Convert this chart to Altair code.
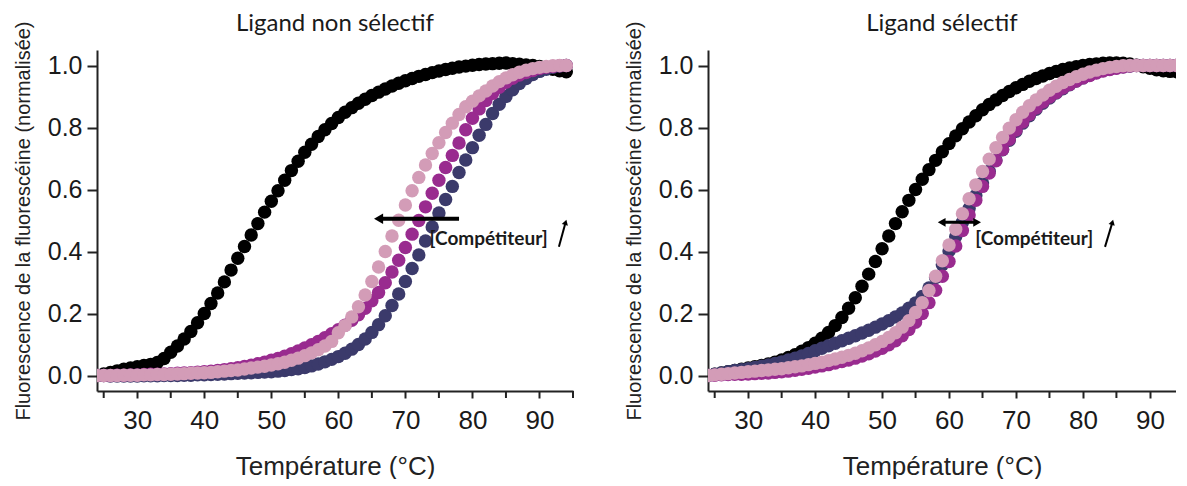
import altair as alt
import pandas as pd

temps = list(range(24, 95))

# Left panel: "Ligand non sélectif"
L_black = [0.000, 0.005, 0.010, 0.015, 0.020, 0.024, 0.028, 0.032, 0.036, 0.042,
           0.055, 0.075, 0.095, 0.118, 0.142, 0.170, 0.200, 0.232, 0.266, 0.302,
           0.340, 0.378, 0.416, 0.453, 0.490, 0.527, 0.562, 0.596, 0.630, 0.661,
           0.691, 0.720, 0.746, 0.771, 0.793, 0.813, 0.832, 0.849, 0.864, 0.878,
           0.891, 0.903, 0.914, 0.924, 0.934, 0.943, 0.951, 0.958, 0.965, 0.971,
           0.977, 0.982, 0.987, 0.991, 0.995, 0.998, 1.001, 1.003, 1.005, 1.006,
           1.007, 1.008, 1.006, 1.004, 1.002, 1.000, 0.997, 0.993, 0.988, 0.983,
           0.980]
L_navy = [0.000, 0.000, -0.002, -0.002, -0.002, -0.002, -0.002, -0.001, -0.001, -0.001,
          0.000, 0.000, 0.000, 0.001, 0.001, 0.002, 0.002, 0.003, 0.004, 0.005,
          0.006, 0.007, 0.008, 0.009, 0.010, 0.011, 0.012, 0.014, 0.016, 0.019,
          0.022, 0.026, 0.031, 0.037, 0.044, 0.052, 0.061, 0.072, 0.085, 0.100,
          0.118, 0.139, 0.164, 0.193, 0.226, 0.263, 0.303, 0.345, 0.389, 0.434,
          0.479, 0.524, 0.568, 0.610, 0.655, 0.695, 0.735, 0.775, 0.810, 0.845,
          0.875, 0.900, 0.922, 0.942, 0.958, 0.971, 0.981, 0.988, 0.994, 0.998,
          1.000]
L_purple = [0.000, 0.000, 0.000, 0.001, 0.001, 0.002, 0.002, 0.003, 0.004, 0.004,
            0.005, 0.006, 0.007, 0.008, 0.009, 0.011, 0.012, 0.014, 0.016, 0.019,
            0.022, 0.025, 0.029, 0.033, 0.038, 0.043, 0.049, 0.055, 0.062, 0.070,
            0.079, 0.089, 0.099, 0.110, 0.122, 0.135, 0.148, 0.162, 0.178, 0.196,
            0.217, 0.241, 0.268, 0.299, 0.334, 0.372, 0.413, 0.456, 0.500, 0.544,
            0.588, 0.630, 0.671, 0.710, 0.750, 0.793, 0.830, 0.860, 0.887, 0.910,
            0.930, 0.946, 0.959, 0.969, 0.977, 0.984, 0.990, 0.994, 0.997, 0.999,
            1.000]
L_pink = [0.000, 0.000, 0.000, 0.000, 0.001, 0.001, 0.001, 0.002, 0.002, 0.003,
          0.003, 0.004, 0.005, 0.006, 0.007, 0.008, 0.009, 0.010, 0.012, 0.014,
          0.016, 0.018, 0.021, 0.024, 0.027, 0.030, 0.034, 0.038, 0.043, 0.049,
          0.056, 0.064, 0.073, 0.083, 0.095, 0.110, 0.138, 0.161, 0.189, 0.222,
          0.260, 0.303, 0.350, 0.400, 0.450, 0.501, 0.550, 0.596, 0.639, 0.679,
          0.716, 0.751, 0.784, 0.814, 0.842, 0.867, 0.885, 0.902, 0.918, 0.934,
          0.948, 0.960, 0.970, 0.978, 0.985, 0.990, 0.994, 0.997, 0.999, 1.000,
          1.000]

# Right panel: "Ligand sélectif"
R_black = [0.000, 0.004, 0.008, 0.012, 0.016, 0.020, 0.024, 0.028, 0.032, 0.037,
           0.043, 0.050, 0.058, 0.067, 0.078, 0.090, 0.104, 0.120, 0.139, 0.161,
           0.187, 0.217, 0.251, 0.288, 0.327, 0.368, 0.409, 0.450, 0.490, 0.528,
           0.565, 0.600, 0.633, 0.664, 0.694, 0.722, 0.748, 0.773, 0.796, 0.818,
           0.838, 0.857, 0.874, 0.889, 0.903, 0.916, 0.928, 0.939, 0.949, 0.958,
           0.966, 0.974, 0.981, 0.987, 0.992, 0.996, 1.000, 1.003, 1.005, 1.007,
           1.008, 1.008, 1.007, 1.005, 1.001, 0.996, 0.991, 0.986, 0.983, 0.981,
           0.980]
R_navy = [0.000, 0.004, 0.008, 0.012, 0.016, 0.019, 0.022, 0.026, 0.030, 0.034,
          0.039, 0.044, 0.050, 0.056, 0.063, 0.071, 0.080, 0.088, 0.096, 0.104,
          0.112, 0.120, 0.128, 0.137, 0.146, 0.156, 0.166, 0.177, 0.189, 0.202,
          0.217, 0.234, 0.255, 0.282, 0.316, 0.357, 0.402, 0.448, 0.494, 0.539,
          0.581, 0.621, 0.659, 0.695, 0.728, 0.759, 0.788, 0.814, 0.838, 0.859,
          0.878, 0.895, 0.911, 0.925, 0.938, 0.950, 0.960, 0.969, 0.977, 0.984,
          0.989, 0.993, 0.996, 0.998, 1.000, 1.000, 1.000, 1.000, 1.000, 1.000,
          1.000]
R_purple = [0.000, 0.001, 0.002, 0.003, 0.004, 0.004, 0.005, 0.006, 0.007, 0.008,
            0.010, 0.012, 0.014, 0.017, 0.020, 0.023, 0.027, 0.031, 0.035, 0.040,
            0.045, 0.050, 0.056, 0.063, 0.070, 0.079, 0.088, 0.099, 0.112, 0.128,
            0.148, 0.172, 0.200, 0.235, 0.275, 0.320, 0.368, 0.418, 0.468, 0.518,
            0.565, 0.610, 0.653, 0.693, 0.729, 0.762, 0.792, 0.818, 0.842, 0.863,
            0.882, 0.898, 0.913, 0.927, 0.939, 0.950, 0.960, 0.968, 0.976, 0.982,
            0.987, 0.991, 0.995, 0.998, 1.000, 1.000, 1.000, 1.000, 1.000, 1.000,
            1.000]
R_pink = [0.000, 0.002, 0.004, 0.006, 0.008, 0.010, 0.012, 0.014, 0.016, 0.018,
          0.020, 0.022, 0.025, 0.028, 0.031, 0.035, 0.039, 0.043, 0.048, 0.053,
          0.059, 0.065, 0.072, 0.080, 0.089, 0.099, 0.110, 0.123, 0.138, 0.156,
          0.177, 0.203, 0.235, 0.274, 0.320, 0.370, 0.421, 0.472, 0.522, 0.570,
          0.615, 0.658, 0.698, 0.735, 0.768, 0.798, 0.825, 0.849, 0.870, 0.889,
          0.905, 0.920, 0.933, 0.945, 0.955, 0.964, 0.972, 0.979, 0.985, 0.990,
          0.994, 0.997, 0.999, 1.000, 1.000, 1.000, 1.000, 1.000, 1.000, 1.000,
          1.000]

series_names = ["ligand", "c1", "c2", "c3"]
series_colors = ["#000000", "#3b3a6b", "#992b8f", "#d39cb7"]

titles = ["Ligand non sélectif", "Ligand sélectif"]
x_title = "Température (°C)"
y_title = "Fluorescence de la fluorescéine (normalisée)"
annot_text = "[Compétiteur]"
x_major = [30, 40, 50, 60, 70, 80, 90]
x_minor = [25, 35, 45, 55, 65, 75, 85, 95]

AX_FONT = "Liberation Sans"


def build_df(curves):
    rows = []
    for name, vals in zip(series_names, curves):
        for t, v in zip(temps, vals):
            rows.append({"T": t, "F": v, "s": name})
    return pd.DataFrame(rows)


def panel(title, curves, xmax, width, arrow, text_pos, small_arrow, double):
    df = build_df(curves)
    xs = alt.Scale(domain=[24, xmax], nice=False, zero=False)
    ys = alt.Scale(domain=[-0.05, 1.05], nice=False, zero=False)
    xax = alt.Axis(
        values=x_major, format="d",
        tickSize=7,
        grid=False, title=x_title, titleFontSize=26, titleFont=AX_FONT,
        titleFontWeight="normal", titlePadding=20, labelFontSize=26,
        labelFont=AX_FONT, labelPadding=9,
    )
    yax = alt.Axis(
        values=[0.0, 0.1, 0.2, 0.3, 0.4, 0.5, 0.6, 0.7, 0.8, 0.9, 1.0],
        labelExpr="round(datum.value*10) % 2 == 0 ? format(datum.value, '.1f') : ''",
        tickSize={"condition": {"test": "round(datum.value*10) % 2 == 0", "value": 10}, "value": 6},
        labelOverlap=False,
        grid=False, title=y_title, titleFontSize=20, titleFont=AX_FONT,
        titleFontWeight="normal", titlePadding=14, labelFontSize=25,
        labelFont=AX_FONT, labelPadding=5,
    )
    pts = alt.Chart(df).mark_circle(size=180, opacity=1, clip=True).encode(
        x=alt.X("T:Q", scale=xs, axis=xax),
        y=alt.Y("F:Q", scale=ys, axis=yax),
        color=alt.Color("s:N", scale=alt.Scale(domain=series_names, range=series_colors), legend=None),
    )
    # minor x ticks (between the labelled ones)
    mt = pd.DataFrame({"x": [v for v in x_minor if v <= xmax]})
    minor = alt.Chart(mt).mark_rule(color="#222", strokeWidth=2).encode(
        x=alt.X("x:Q", scale=xs), y=alt.value(341), y2=alt.value(348))
    a = pd.DataFrame({"x": [arrow[0]], "x2": [arrow[1]], "y": [arrow[2]]})
    shaft = alt.Chart(a).mark_rule(color="#000", strokeWidth=arrow[3]).encode(
        x=alt.X("x:Q", scale=xs), x2="x2:Q", y=alt.Y("y:Q", scale=ys))
    heads_df = pd.DataFrame({"x": [arrow[1]], "y": [arrow[2]]})
    head_l = alt.Chart(heads_df).mark_point(shape="triangle-left", filled=True, size=arrow[4],
                                            color="#000", opacity=1).encode(
        x=alt.X("x:Q", scale=xs), y=alt.Y("y:Q", scale=ys))
    layers = [pts, minor, shaft, head_l]
    if double:
        hr = pd.DataFrame({"x": [arrow[0]], "y": [arrow[2]]})
        layers.append(alt.Chart(hr).mark_point(shape="triangle-right", filled=True, size=arrow[4],
                                               color="#000", opacity=1).encode(
            x=alt.X("x:Q", scale=xs), y=alt.Y("y:Q", scale=ys)))
    tdf = pd.DataFrame({"x": [text_pos[0]], "y": [text_pos[1]], "t": [annot_text]})
    layers.append(alt.Chart(tdf).mark_text(align="left", baseline="middle", font="Lato",
                                           fontWeight="bold", fontSize=19, color="#1a1a1a").encode(
        x=alt.X("x:Q", scale=xs), y=alt.Y("y:Q", scale=ys), text="t:N"))
    sdf = pd.DataFrame({"x": [small_arrow[0]], "x2": [small_arrow[1]],
                        "y": [small_arrow[2]], "y2": [small_arrow[3]]})
    layers.append(alt.Chart(sdf).mark_rule(color="#000", strokeWidth=2).encode(
        x=alt.X("x:Q", scale=xs), x2="x2:Q", y=alt.Y("y:Q", scale=ys), y2="y2:Q"))
    shd = pd.DataFrame({"x": [small_arrow[1]], "y": [small_arrow[3]]})
    layers.append(alt.Chart(shd).mark_point(shape="triangle-up", filled=True, size=40, angle=16,
                                            color="#000", opacity=1).encode(
        x=alt.X("x:Q", scale=xs), y=alt.Y("y:Q", scale=ys)))
    ttl = pd.DataFrame({"t": [title]})
    layers.append(alt.Chart(ttl).mark_text(align="center", baseline="alphabetic", font="Lato",
                                           fontSize=24, color="#1a1a1a").encode(
        x=alt.value(width / 2), y=alt.value(-19), text="t:N"))
    return alt.layer(*layers).properties(width=width, height=341)


left = panel(titles[0], [L_black, L_navy, L_purple, L_pink], 95, 476,
             (78.0, 66.0, 0.506, 4, 110), (73.6, 0.44), (92.9, 93.9, 0.415, 0.494), False)
right = panel(titles[1], [R_black, R_navy, R_purple, R_pink], 93.9, 468,
              (64.2, 58.9, 0.494, 3, 80), (63.9, 0.44), (83.3, 84.4, 0.415, 0.494), True)

chart = alt.hconcat(left, right, spacing=50).properties(
    padding={"left": 5, "top": 4, "right": 0, "bottom": 0}
).configure_view(stroke=None).configure_axis(
    domainColor="#222", domainWidth=2, tickColor="#222", tickWidth=2,
    labelColor="#1a1a1a", titleColor="#222"
)

chart.save("out.html", embed_options={"renderer": "svg", "actions": False})
